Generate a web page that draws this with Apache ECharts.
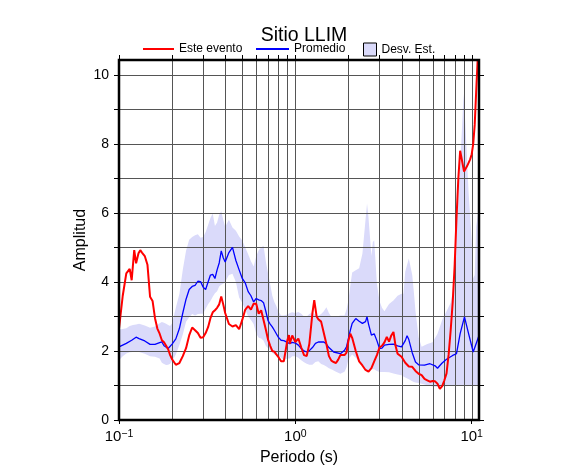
<!DOCTYPE html>
<html>
<head>
<meta charset="utf-8">
<script src="https://cdn.jsdelivr.net/npm/echarts@6/dist/echarts.min.js"></script>
<style>html,body{margin:0;padding:0;background:#fff;}#c{width:586px;height:475px;}</style>
</head>
<body>
<div id="c"></div>
<script>
// ---- Data ----
const titleText = 'Sitio LLIM';
const legendNames = ['Este evento', 'Promedio', 'Desv. Est.'];

const redPeriod = [0.100,0.105,0.110,0.115,0.118,0.122,0.125,0.129,0.132,0.135,0.140,0.145,0.150,0.155,0.160,0.165,0.170,0.175,0.180,0.185,0.190,0.195,0.200,0.21,0.22,0.23,0.24,0.25,0.26,0.27,0.28,0.29,0.30,0.31,0.32,0.33,0.34,0.35,0.36,0.37,0.38,0.39,0.40,0.42,0.44,0.46,0.48,0.50,0.52,0.54,0.56,0.58,0.60,0.62,0.64,0.66,0.68,0.70,0.72,0.74,0.76,0.78,0.80,0.83,0.86,0.88,0.90,0.92,0.93,0.96,0.98,1.00,1.04,1.08,1.12,1.16,1.20,1.25,1.28,1.32,1.35,1.40,1.45,1.50,1.55,1.60,1.65,1.70,1.75,1.80,1.90,1.95,2.00,2.05,2.10,2.20,2.30,2.40,2.50,2.60,2.70,2.80,2.90,3.00,3.10,3.20,3.30,3.40,3.50,3.60,3.70,3.80,3.90,4.00,4.20,4.40,4.60,4.80,5.00,5.20,5.40,5.60,5.80,6.00,6.20,6.40,6.60,6.80,7.00,7.20,7.40,7.60,7.80,8.00,8.20,8.40,8.60,8.80,9.05,9.20,9.40,9.60,9.80,10.0,10.2,10.4,10.6,10.8,10.9];
const redAmp = [2.65,3.6,4.25,4.38,4.05,4.92,4.54,4.83,4.92,4.85,4.75,4.5,3.57,3.45,2.95,2.65,2.5,2.31,2.25,2.15,2.05,1.88,1.76,1.6,1.65,1.85,2.08,2.45,2.68,2.6,2.52,2.38,2.4,2.52,2.69,2.95,3.12,3.18,3.25,3.35,3.58,3.35,3.1,2.78,2.71,2.75,2.63,2.9,3.2,3.3,3.2,3.37,3.37,3.08,3.18,2.9,2.62,2.33,2.15,2.0,1.98,1.9,1.83,1.7,1.7,1.75,2.3,2.46,2.21,2.45,2.5,2.26,2.36,2.1,1.88,1.85,2.2,3.1,3.47,3.0,2.92,2.85,2.52,2.2,1.85,1.72,1.68,1.65,1.75,1.88,1.88,1.95,2.3,2.5,2.38,2.0,1.7,1.58,1.45,1.4,1.5,1.7,1.88,2.1,2.15,2.25,2.41,2.27,2.45,2.55,2.15,1.92,1.9,1.83,1.66,1.55,1.54,1.42,1.34,1.3,1.19,1.15,1.11,1.13,1.12,1.05,0.9,0.98,1.15,1.35,1.9,2.6,3.4,4.45,5.85,7.0,7.8,7.82,7.2,7.25,7.35,7.45,7.55,7.7,8.0,8.55,9.5,10.4,10.8];

const bluePeriod = [0.100,0.110,0.118,0.125,0.130,0.140,0.150,0.160,0.170,0.175,0.180,0.190,0.200,0.21,0.22,0.23,0.24,0.25,0.26,0.27,0.28,0.29,0.30,0.31,0.32,0.33,0.34,0.35,0.36,0.37,0.38,0.39,0.40,0.42,0.44,0.46,0.48,0.50,0.52,0.54,0.56,0.58,0.60,0.62,0.64,0.66,0.68,0.70,0.72,0.74,0.76,0.78,0.80,0.83,0.86,0.90,0.93,0.96,1.00,1.04,1.08,1.12,1.16,1.20,1.25,1.30,1.35,1.40,1.45,1.50,1.55,1.65,1.80,1.90,1.95,2.05,2.10,2.20,2.30,2.40,2.50,2.55,2.60,2.70,2.80,2.90,3.00,3.10,3.20,3.40,3.60,3.80,4.00,4.20,4.30,4.40,4.60,4.80,5.00,5.40,5.80,6.20,6.40,6.60,6.80,7.20,7.80,8.20,8.60,9.10,9.60,10.2,11.0];
const blueAmp = [2.12,2.22,2.31,2.4,2.36,2.29,2.19,2.19,2.24,2.26,2.15,2.07,2.2,2.35,2.65,3.1,3.5,3.78,3.87,3.9,4.02,4.01,3.85,3.78,4.0,4.2,4.22,4.1,4.35,4.55,4.9,4.7,4.58,4.85,5.0,4.62,4.35,4.1,3.97,3.72,3.6,3.42,3.52,3.48,3.46,3.4,3.15,2.88,2.78,2.7,2.6,2.5,2.4,2.31,2.3,2.25,2.21,2.25,2.23,2.17,2.07,2.0,1.97,2.01,2.1,2.22,2.26,2.26,2.26,2.2,2.1,1.97,1.92,2.02,2.12,2.6,2.8,2.94,2.86,2.8,2.85,2.99,2.78,2.46,2.5,2.3,2.07,2.08,2.17,2.19,2.2,2.15,2.12,2.3,2.44,2.33,1.95,1.68,1.6,1.59,1.63,1.57,1.5,1.58,1.65,1.76,1.87,1.92,2.5,2.99,2.5,1.97,2.45];

const bandPeriod = [0.100,0.105,0.110,0.115,0.120,0.125,0.130,0.140,0.150,0.160,0.170,0.175,0.180,0.185,0.190,0.195,0.200,0.21,0.22,0.23,0.24,0.25,0.26,0.27,0.28,0.29,0.30,0.31,0.32,0.33,0.34,0.35,0.36,0.37,0.38,0.39,0.40,0.42,0.44,0.46,0.48,0.50,0.52,0.54,0.56,0.58,0.60,0.62,0.64,0.66,0.68,0.70,0.72,0.74,0.76,0.78,0.80,0.83,0.86,0.90,0.93,0.96,1.00,1.04,1.08,1.12,1.16,1.20,1.25,1.30,1.35,1.40,1.45,1.50,1.55,1.60,1.70,1.80,1.90,1.95,2.00,2.05,2.10,2.20,2.30,2.40,2.50,2.55,2.60,2.70,2.75,2.80,2.90,3.00,3.10,3.20,3.40,3.60,3.80,4.00,4.10,4.20,4.40,4.60,4.70,4.80,5.00,5.20,5.60,6.00,6.40,6.80,7.20,7.60,7.80,8.00,8.20,8.40,8.60,8.80,9.00,9.20,9.40,9.60,9.80,10.0,10.2,10.4,10.6,10.8,11.0];
const bandUpper = [2.62,2.64,2.66,2.72,2.75,2.77,2.79,2.74,2.67,2.71,2.8,2.84,2.82,2.79,2.75,2.72,2.8,3.25,3.65,4.35,4.9,5.22,5.3,5.35,5.38,5.28,5.3,5.45,5.65,5.85,5.98,5.62,5.72,5.95,6.05,5.8,5.6,5.8,5.58,5.48,5.32,5.2,5.0,4.8,4.6,4.45,4.75,4.92,5.0,5.05,4.6,4.25,3.93,3.6,3.42,3.3,3.15,3.03,3.03,3.06,3.1,3.12,3.1,3.13,3.08,3.0,3.0,3.07,3.12,3.05,3.02,3.07,3.15,3.27,3.1,2.99,2.99,3.03,3.03,3.2,3.47,3.9,4.27,4.34,4.4,4.82,5.8,6.27,5.85,4.75,5.15,5.21,3.95,3.45,3.25,3.15,3.36,3.46,3.6,3.66,3.66,4.3,4.68,4.2,3.7,3.15,2.4,2.12,2.2,2.25,2.5,2.9,3.15,3.4,3.7,4.5,5.6,6.4,7.4,8.4,9.45,8.6,7.6,6.6,5.9,5.2,4.1,4.2,5.6,5.9,6.2];
const bandLower = [1.73,1.85,1.93,1.96,1.97,1.97,1.97,1.92,1.85,1.83,1.78,1.66,1.62,1.59,1.6,1.63,1.7,1.9,2.17,2.48,2.85,2.98,3.07,3.03,3.07,3.08,3.08,3.22,3.35,3.45,3.57,3.67,3.73,3.87,3.92,3.95,4.0,4.2,4.24,4.0,3.55,3.4,3.2,3.0,2.9,2.78,2.5,2.38,2.36,2.3,2.15,2.08,2.02,1.95,1.9,1.88,1.85,1.8,1.73,1.78,1.78,1.85,1.85,1.8,1.73,1.67,1.63,1.6,1.6,1.68,1.7,1.62,1.59,1.55,1.5,1.47,1.4,1.34,1.4,1.52,1.75,1.83,1.9,1.8,1.7,1.58,1.45,1.39,1.42,1.47,1.47,1.47,1.42,1.39,1.39,1.39,1.38,1.35,1.32,1.3,1.26,1.23,1.18,1.12,1.1,1.09,1.07,1.05,1.01,0.97,0.96,0.97,0.98,1.0,1.0,1.0,1.0,1.0,1.0,1.0,1.0,1.0,1.0,1.0,1.0,1.0,1.0,1.0,1.0,1.0,1.0];

const xMin = 0.1, xMax = 11.0, yMin = 0, yMax = 10.43;
const xLabelValues = [0.1, 1, 10];
const xGridValues = [0.1,0.2,0.3,0.4,0.5,0.6,0.7,0.8,0.9,1,2,3,4,5,6,7,8,9,10];
const yTickValues = [0,1,2,3,4,5,6,7,8,9,10];
const yLabelValues = [0,2,4,6,8,10];

// ---- Build ----
const FONT = 'Liberation Sans';
const RED = '#ff0000', BLUE = '#0000ff', BAND = 'rgb(218,218,250)', GRIDC = '#555';
const pairs = (xs, ys) => xs.map((x, i) => [x, ys[i]]);

function supLabel(v) {
  const e = Math.round(Math.log10(v));
  if (Math.abs(v - Math.pow(10, e)) > 1e-9 * Math.pow(10, e)) return '';
  const s = e < 0 ? '\u2212' + (-e) : String(e);
  return '{b|10}{s|' + s + '}';
}

const chart = echarts.init(document.getElementById('c'), null, {renderer: 'canvas'});
const legendText = {fontFamily: FONT, fontSize: 12, color: '#000'};
chart.setOption({
  animation: false,
  backgroundColor: '#fff',
  title: {text: titleText, left: 299, top: 21, textAlign: 'center',
    textStyle: {fontFamily: FONT, fontSize: 19.5, fontWeight: 'normal', color: '#000'}},
  legend: [
    {left: 143, top: 43, padding: 0, itemWidth: 31, itemHeight: 2, selectedMode: false, textStyle: legendText,
     data: [{name: legendNames[0], icon: 'rect', itemStyle: {color: RED}}]},
    {left: 256, top: 43, padding: 0, itemWidth: 33, itemHeight: 2, selectedMode: false, textStyle: legendText,
     data: [{name: legendNames[1], icon: 'rect', itemStyle: {color: BLUE}}]},
    {left: 363, top: 42.5, padding: 0, itemWidth: 13, itemHeight: 13, selectedMode: false, textStyle: legendText,
     data: [{name: legendNames[2], icon: 'rect', itemStyle: {color: BAND, borderColor: '#000', borderWidth: 1}}]}
  ],
  grid: {left: 119, right: 107, top: 60, bottom: 55, show: false},
  xAxis: {
    type: 'log', logBase: 10, min: xMin, max: xMax,
    axisLine: {show: false},
    splitLine: {show: false},
    axisTick: {show: true, inside: false, length: 4, customValues: xLabelValues, lineStyle: {color: '#000', width: 1}},
    axisLabel: {customValues: xLabelValues, margin: 9, formatter: supLabel, color: '#000',
      rich: {b: {fontFamily: FONT, fontSize: 15, color: '#000', verticalAlign: 'bottom'},
             s: {fontFamily: FONT, fontSize: 10.5, color: '#000', verticalAlign: 'top'}}},
    name: 'Periodo (s)', nameLocation: 'middle', nameGap: 30, nameMoveOverlap: false,
    nameTextStyle: {fontFamily: FONT, fontSize: 16, color: '#000'}
  },
  yAxis: [{
    type: 'value', min: yMin, max: yMax,
    axisLine: {show: false}, splitLine: {show: false},
    axisTick: {show: true, inside: false, length: 5, customValues: yTickValues, lineStyle: {color: '#000', width: 1}},
    axisLabel: {customValues: yLabelValues, margin: 10, fontFamily: FONT, fontSize: 14, color: '#000'},
    name: 'Amplitud', nameLocation: 'middle', nameGap: 30, nameMoveOverlap: false,
    nameTextStyle: {fontFamily: FONT, fontSize: 16, color: '#000'}
  }, {
    type: 'value', min: yMin, max: yMax, position: 'right',
    axisLine: {show: false}, splitLine: {show: false},
    axisTick: {show: true, inside: false, length: 5, customValues: yTickValues, lineStyle: {color: '#000', width: 1}},
    axisLabel: {show: false}
  }],
  series: [
    {name: legendNames[2], type: 'custom', z: 1, silent: true, clip: true,
     itemStyle: {color: BAND},
     data: [[xMin, yMin]],
     renderItem: function (params, api) {
       const pts = [];
       for (let i = 0; i < bandPeriod.length; i++) pts.push(api.coord([bandPeriod[i], bandUpper[i]]));
       for (let i = bandPeriod.length - 1; i >= 0; i--) pts.push(api.coord([bandPeriod[i], bandLower[i]]));
       return {type: 'polygon', shape: {points: pts}, style: {fill: BAND, stroke: null}};
     }},
    {name: '_vgrid', type: 'custom', z: 3, silent: true, clip: false,
     data: xGridValues.map(v => [v, yMin]),
     renderItem: function (params, api) {
       const v = api.value(0);
       const a = api.coord([v, yMin]);
       const b = api.coord([v, yMax]);
       const x = Math.round(a[0]) + 0.5;
       return {type: 'group', children: [
         {type: 'line', shape: {x1: x, y1: a[1], x2: x, y2: b[1]}, style: {stroke: GRIDC, lineWidth: 1}},
         {type: 'line', shape: {x1: x, y1: b[1], x2: x, y2: b[1] - 5}, style: {stroke: '#000', lineWidth: 1}}
       ]};
     }},
    {name: '_hgrid', type: 'custom', z: 3, silent: true, clip: false,
     data: yTickValues.map(v => [xMin, v]),
     renderItem: function (params, api) {
       const v = api.value(1);
       const a = api.coord([xMin, v]);
       const b = api.coord([xMax, v]);
       const y = Math.round(a[1]) + 0.5;
       return {type: 'line', shape: {x1: a[0], y1: y, x2: b[0], y2: y}, style: {stroke: GRIDC, lineWidth: 1}};
     }},
    {name: legendNames[1], type: 'line', symbol: 'none', z: 5, color: BLUE,
     lineStyle: {color: BLUE, width: 1.3}, data: pairs(bluePeriod, blueAmp)},
    {name: legendNames[0], type: 'line', symbol: 'none', z: 6, color: RED,
     lineStyle: {color: RED, width: 2}, data: pairs(redPeriod, redAmp)},
    {name: '_frame', type: 'custom', z: 8, silent: true, clip: false,
     data: [[xMin, yMin]],
     renderItem: function (params, api) {
       const a = api.coord([xMin, yMin]);
       const b = api.coord([xMax, yMax]);
       return {type: 'rect', shape: {x: a[0], y: b[1], width: b[0] - a[0], height: a[1] - b[1]},
               style: {fill: null, stroke: '#000', lineWidth: 2.5}};
     }}
  ]
});
</script>
</body>
</html>
